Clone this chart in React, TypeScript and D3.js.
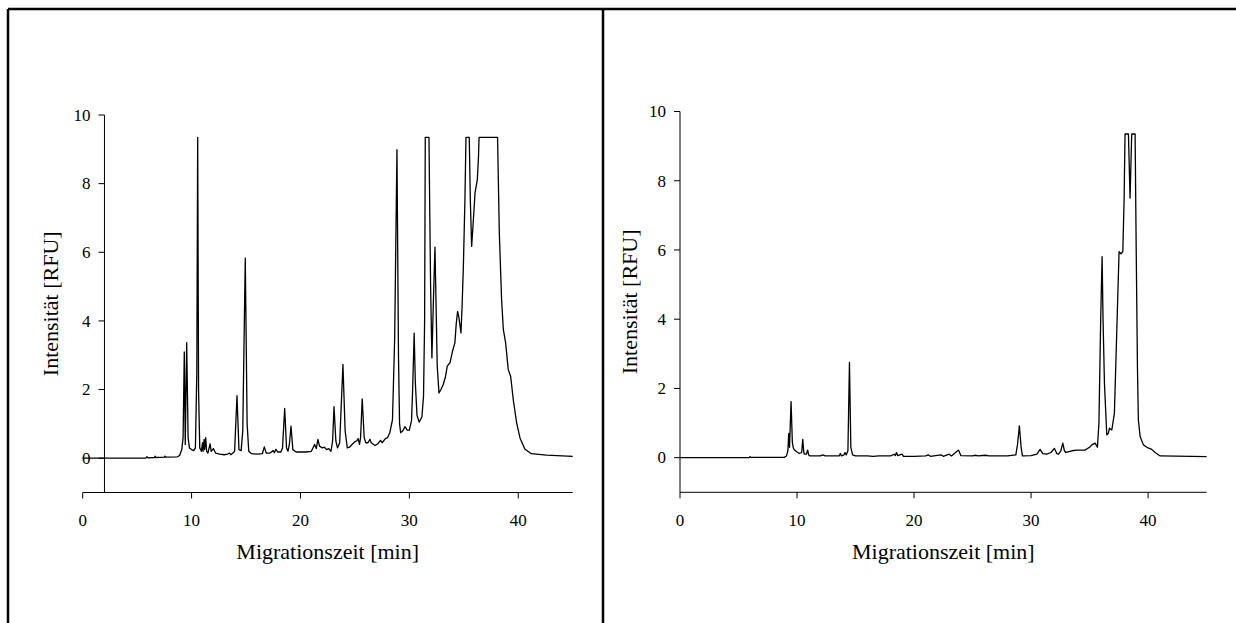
import React from "react";
import * as d3 from "d3";

// ---------- data ----------
const xTickValues = [0, 10, 20, 30, 40];
const yTickValues = [0, 2, 4, 6, 8, 10];
const xAxisTitle = "Migrationszeit [min]";
const yAxisTitle = "Intensität [RFU]";

const leftTime = [
  0, 5.8, 5.9, 6.0, 6.6, 6.65, 6.7, 7.5, 7.55, 7.6, 8.7, 8.9, 9.1, 9.22, 9.33, 9.42, 9.55, 9.68, 9.8, 10.0,
  10.2, 10.35, 10.48, 10.56, 10.64, 10.75, 10.9, 11.0, 11.05, 11.15, 11.2, 11.3, 11.38, 11.5, 11.7, 11.8, 12.0, 12.2, 12.6, 13.0,
  13.3, 13.5, 13.6, 13.8, 13.95, 14.17, 14.35, 14.55, 14.7, 14.93, 15.1, 15.25, 15.5, 16.0, 16.5, 16.68, 16.85, 17.2, 17.5, 17.6,
  17.75, 17.9, 18.2, 18.35, 18.55, 18.72, 18.85, 18.98, 19.13, 19.3, 19.6, 20.0, 20.5, 21.0, 21.3, 21.45, 21.6, 21.75, 22.0, 22.2,
  22.4, 22.6, 22.8, 22.95, 23.08, 23.25, 23.4, 23.6, 23.9, 24.1, 24.3, 24.5, 24.8, 25.0, 25.15, 25.3, 25.42, 25.52, 25.67, 25.85,
  26.0, 26.2, 26.38, 26.5, 26.85, 27.1, 27.35, 27.5, 27.8, 28.0, 28.2, 28.45, 28.65, 28.86, 29.0, 29.1, 29.2, 29.4, 29.6, 29.8,
  30.0, 30.2, 30.3, 30.44, 30.55, 30.7, 30.9, 31.15, 31.3, 31.4, 31.46, 31.8, 31.88, 31.95, 32.07, 32.2, 32.35, 32.45, 32.56, 32.72,
  32.9, 33.1, 33.3, 33.48, 33.73, 33.95, 34.18, 34.3, 34.43, 34.55, 34.74, 34.85, 34.96, 35.1, 35.2, 35.5, 35.6, 35.72, 35.85, 36.03,
  36.24, 36.35, 36.4, 38.1, 38.26, 38.47, 38.63, 38.84, 39.08, 39.3, 39.54, 39.85, 40.16, 40.6, 41.2, 42.6, 45.0,
];
const leftIntensity = [
  0, 0, 0.04, 0.01, 0.02, 0.06, 0.02, 0.03, 0.06, 0.03, 0.04, 0.08, 0.25, 0.6, 3.1, 0.4, 3.37, 0.6, 0.3, 0.25,
  0.22, 0.3, 2.5, 9.35, 2.0, 0.3, 0.2, 0.45, 0.2, 0.55, 0.25, 0.6, 0.2, 0.15, 0.42, 0.2, 0.28, 0.15, 0.12, 0.1,
  0.12, 0.15, 0.1, 0.15, 0.2, 1.82, 0.25, 0.22, 0.8, 5.83, 1.0, 0.2, 0.13, 0.12, 0.13, 0.33, 0.15, 0.15, 0.22, 0.16,
  0.26, 0.18, 0.18, 0.3, 1.45, 0.3, 0.2, 0.4, 0.93, 0.25, 0.18, 0.18, 0.18, 0.2, 0.4, 0.28, 0.55, 0.35, 0.3, 0.32,
  0.25, 0.28, 0.2, 0.5, 1.5, 0.5, 0.3, 0.45, 2.73, 0.8, 0.3, 0.32, 0.42, 0.48, 0.5, 0.57, 0.4, 0.6, 1.73, 0.6,
  0.45, 0.45, 0.55, 0.45, 0.37, 0.42, 0.52, 0.45, 0.57, 0.6, 0.74, 1.12, 3.5, 8.99, 3.0, 1.0, 0.74, 0.8, 0.92, 0.82,
  0.82, 1.1, 2.0, 3.64, 2.2, 1.25, 1.05, 1.2, 1.8, 4.0, 9.35, 9.35, 7.0, 5.0, 2.92, 4.5, 6.15, 4.5, 2.68, 1.9,
  2.0, 2.14, 2.35, 2.68, 2.78, 3.1, 3.36, 3.9, 4.28, 4.1, 3.65, 4.5, 5.59, 7.5, 9.35, 9.35, 7.5, 6.17, 6.8, 7.73,
  8.12, 8.8, 9.35, 9.35, 6.57, 4.62, 3.75, 3.36, 2.58, 2.39, 1.71, 1.03, 0.59, 0.27, 0.13, 0.09, 0.05,
];

const rightTime = [
  0, 5.9, 5.98, 6.05, 8.9, 9.1, 9.22, 9.29, 9.36, 9.49, 9.6, 9.69, 9.8, 9.97, 10.2, 10.4, 10.49, 10.58, 10.63, 10.8,
  10.91, 11.0, 11.1, 12.0, 12.2, 12.4, 13.0, 13.6, 13.7, 13.8, 14.0, 14.1, 14.2, 14.35, 14.48, 14.6, 14.75, 15.0, 16.0, 16.5,
  17.0, 18.0, 18.3, 18.4, 18.5, 18.6, 18.97, 19.1, 20.0, 21.0, 21.2, 21.4, 22.3, 22.5, 23.0, 23.2, 23.8, 24.0, 25.0, 25.2,
  25.5, 26.1, 26.4, 28.0, 28.7, 28.85, 29.0, 29.15, 29.26, 30.0, 30.5, 30.77, 31.0, 31.34, 31.7, 31.99, 32.2, 32.34, 32.55, 32.71,
  32.85, 32.97, 33.5, 33.9, 34.6, 35.0, 35.19, 35.47, 35.67, 35.8, 35.95, 36.07, 36.15, 36.27, 36.47, 36.6, 36.7, 36.9, 37.12, 37.32,
  37.52, 37.69, 37.84, 37.95, 38.03, 38.32, 38.46, 38.6, 38.89, 38.97, 39.09, 39.17, 39.32, 39.6, 39.9, 40.31, 40.6, 41.03, 45.0,
];
const rightIntensity = [
  0, 0, 0.03, 0.01, 0.01, 0.05, 0.2, 0.7, 0.3, 1.62, 0.45, 0.27, 0.22, 0.17, 0.12, 0.15, 0.53, 0.15, 0.1, 0.1,
  0.22, 0.08, 0.05, 0.05, 0.08, 0.05, 0.05, 0.05, 0.12, 0.05, 0.08, 0.15, 0.08, 0.2, 2.75, 0.3, 0.08, 0.05, 0.05, 0.04,
  0.05, 0.05, 0.1, 0.06, 0.15, 0.06, 0.1, 0.04, 0.04, 0.05, 0.08, 0.04, 0.08, 0.04, 0.1, 0.05, 0.22, 0.06, 0.05, 0.07,
  0.05, 0.07, 0.05, 0.05, 0.08, 0.4, 0.92, 0.3, 0.05, 0.06, 0.1, 0.24, 0.12, 0.1, 0.15, 0.27, 0.12, 0.1, 0.2, 0.42,
  0.2, 0.15, 0.2, 0.22, 0.22, 0.3, 0.37, 0.42, 0.3, 1.0, 4.0, 5.81, 4.0, 2.15, 0.66, 0.7, 0.85, 0.8, 1.28, 3.6,
  5.95, 5.89, 5.95, 7.45, 9.35, 9.35, 7.5, 9.35, 9.35, 6.49, 2.63, 1.09, 0.61, 0.37, 0.3, 0.24, 0.15, 0.05, 0.03,
];

const FONT = '"Liberation Serif", "Times New Roman", Times, serif';

type PanelProps = {
  times: number[];
  values: number[];
  xRange: [number, number];
  yRange: [number, number];
  yAxisAt: number;
  yTitleX: number;
};

function Panel({ times, values, xRange, yRange, yAxisAt, yTitleX }: PanelProps) {
  const x = d3.scaleLinear().domain([0, 45]).range(xRange);
  const y = d3.scaleLinear().domain([-1, 10]).range(yRange);
  const pts: [number, number][] = times.map((t, i) => [t, values[i]]);
  const line = d3
    .line<[number, number]>()
    .x((d) => x(d[0]))
    .y((d) => y(d[1]));
  const ax = x(yAxisAt);
  const baseY = y(-1);
  const xMid = (xRange[0] + xRange[1]) / 2;
  const yMid = (yRange[0] + yRange[1]) / 2;
  const textStyle = { fontFamily: FONT };
  return (
    <g fill="#000" style={textStyle}>
      {/* x axis */}
      <line x1={x(0)} x2={x(45)} y1={baseY} y2={baseY} stroke="#000" strokeWidth={1} />
      {xTickValues.map((t) => (
        <g key={"xt" + t}>
          <line x1={x(t)} x2={x(t)} y1={baseY} y2={baseY + 6} stroke="#000" strokeWidth={1} />
          <text x={x(t)} y={526} textAnchor="middle" fontSize={17} style={textStyle}>
            {t}
          </text>
        </g>
      ))}
      {/* y axis */}
      <line x1={ax} x2={ax} y1={y(-1)} y2={y(10)} stroke="#000" strokeWidth={1} />
      {yTickValues.map((v) => (
        <g key={"yt" + v}>
          <line x1={ax - 6} x2={ax} y1={y(v)} y2={y(v)} stroke="#000" strokeWidth={1} />
          <text x={ax - 14} y={y(v)} dy="0.34em" textAnchor="end" fontSize={17} style={textStyle}>
            {v}
          </text>
        </g>
      ))}
      {/* data */}
      <path d={line(pts) || ""} fill="none" stroke="#000" strokeWidth={1.3} strokeLinejoin="round" />
      {/* titles */}
      <text x={xMid} y={559} textAnchor="middle" fontSize={22} style={textStyle}>
        {xAxisTitle}
      </text>
      <text
        transform={`translate(${yTitleX},${yMid}) rotate(-90)`}
        textAnchor="middle"
        fontSize={22}
        style={textStyle}
      >
        {yAxisTitle}
      </text>
    </g>
  );
}

export default function App() {
  return (
    <svg
      width={1236}
      height={623}
      style={{ position: "absolute", left: 0, top: 0, background: "#fff", fontFamily: FONT }}
    >
      <rect x={0} y={0} width={1236} height={623} fill="#fff" />
      {/* frame */}
      <line x1={8} x2={1236} y1={9} y2={9} stroke="#000" strokeWidth={2.5} />
      <line x1={8} x2={8} y1={9} y2={623} stroke="#000" strokeWidth={2.5} />
      <line x1={603} x2={603} y1={9} y2={623} stroke="#000" strokeWidth={2.5} />
      <Panel
        times={leftTime}
        values={leftIntensity}
        xRange={[82.7, 572.7]}
        yRange={[492.5, 115]}
        yAxisAt={2}
        yTitleX={58}
      />
      <Panel
        times={rightTime}
        values={rightIntensity}
        xRange={[680, 1206.6]}
        yRange={[492.3, 111.5]}
        yAxisAt={0}
        yTitleX={637}
      />
    </svg>
  );
}
